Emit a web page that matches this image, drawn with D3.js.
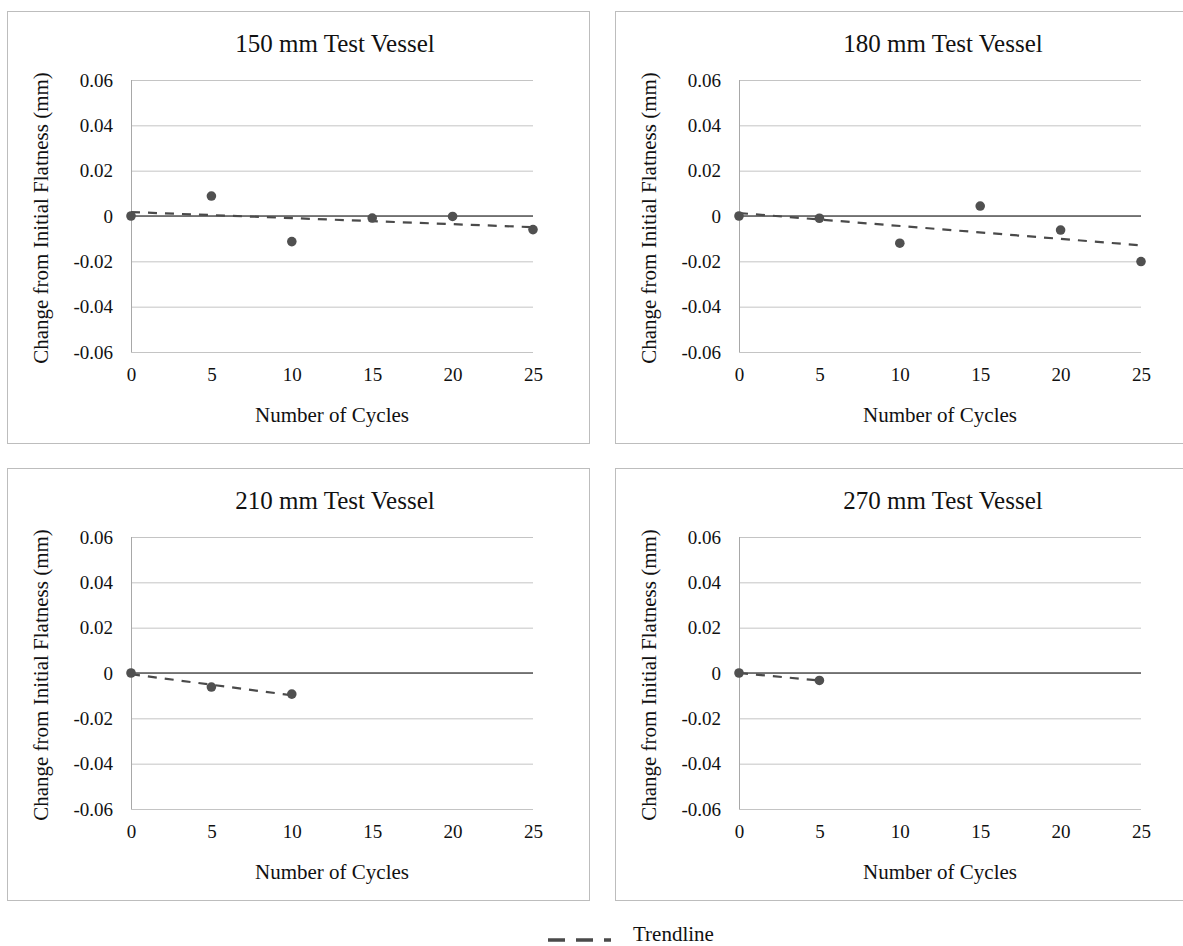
<!DOCTYPE html>
<html>
<head>
<meta charset="utf-8">
<script src="https://cdn.jsdelivr.net/npm/d3@7"></script>
<style>
  html, body { margin: 0; padding: 0; background: #fff; }
  svg { display: block; }
  svg text { font-family: 'Liberation Serif', 'Times New Roman', serif !important; fill: #111; }
</style>
</head>
<body>
<svg id="chart" width="1183" height="946"></svg>
<script>
// ---- data ----
const panelTitles = ["150 mm Test Vessel", "180 mm Test Vessel", "210 mm Test Vessel", "270 mm Test Vessel"];
const cycles150 = [0, 5, 10, 15, 20, 25];
const change150 = [0, 0.0088, -0.0113, -0.0009, -0.0002, -0.006];
const cycles180 = [0, 5, 10, 15, 20, 25];
const change180 = [0, -0.001, -0.012, 0.0044, -0.0062, -0.0201];
const cycles210 = [0, 5, 10];
const change210 = [0, -0.0062, -0.0093];
const cycles270 = [0, 5];
const change270 = [0, -0.0033];
const xTicks = [0, 5, 10, 15, 20, 25];
const yTicks = [0.06, 0.04, 0.02, 0, -0.02, -0.04, -0.06];
const yTickLabels = ["0.06", "0.04", "0.02", "0", "-0.02", "-0.04", "-0.06"];
const xAxisTitle = "Number of Cycles";
const yAxisTitle = "Change from Initial Flatness (mm)";
const legendLabel = "Trendline";

const seriesX = [cycles150, cycles180, cycles210, cycles270];
const seriesY = [change150, change180, change210, change270];

// ---- layout ----
const FONT = "'Liberation Serif', 'Times New Roman', serif";
const svg = d3.select("#chart").attr("font-family", FONT);
const panelW = 582, panelH = 432;
const colX = [7, 615], rowY = [11, 468];
const plot = { left: 124, top: 69, width: 402, height: 272 };

function linreg(xs, ys) {
  const n = xs.length;
  const mx = d3.mean(xs), my = d3.mean(ys);
  let sxy = 0, sxx = 0;
  for (let i = 0; i < n; i++) { sxy += (xs[i] - mx) * (ys[i] - my); sxx += (xs[i] - mx) ** 2; }
  const slope = sxx ? sxy / sxx : 0;
  return { slope, intercept: my - slope * mx };
}

panelTitles.forEach((title, i) => {
  const px = colX[i % 2], py = rowY[Math.floor(i / 2)];
  const g = svg.append("g").attr("transform", `translate(${px},${py})`);

  g.append("rect").attr("x", 0.5).attr("y", 0.5).attr("width", panelW).attr("height", panelH)
    .attr("fill", "#fff").attr("stroke", "#bdbdbd").attr("stroke-width", 1);

  const x = d3.scaleLinear().domain([0, 25]).range([0, plot.width]);
  const y = d3.scaleLinear().domain([-0.06, 0.06]).range([plot.height, 0]);

  const p = g.append("g").attr("transform", `translate(${plot.left},${plot.top})`);

  // gridlines
  p.append("g").call(d3.axisLeft(y).tickValues(yTicks).tickSize(-plot.width).tickFormat(""))
    .call(s => s.select(".domain").remove())
    .call(s => s.selectAll("line").attr("stroke", "#c4c4c4").attr("stroke-width", 1));

  // vertical axis line
  p.append("line").attr("x1", 0.5).attr("x2", 0.5).attr("y1", 0).attr("y2", plot.height)
    .attr("stroke", "#a8a8a8").attr("stroke-width", 1);

  // horizontal axis at zero
  p.append("line").attr("x1", 0).attr("x2", plot.width).attr("y1", y(0)).attr("y2", y(0))
    .attr("stroke", "#555").attr("stroke-width", 1.3);

  // y tick labels
  p.append("g").call(d3.axisLeft(y).tickValues(yTicks).tickSize(0).tickPadding(18)
      .tickFormat((d, k) => yTickLabels[k]))
    .attr("font-family", FONT).attr("font-size", 19)
    .call(s => s.select(".domain").remove())
    .call(s => s.selectAll("text").attr("fill", "#111"));

  // x tick labels (low position)
  p.append("g").attr("transform", `translate(0,${plot.height})`)
    .call(d3.axisBottom(x).tickValues(xTicks).tickSize(0).tickPadding(16))
    .attr("font-family", FONT).attr("font-size", 19)
    .call(s => s.select(".domain").remove())
    .call(s => s.selectAll("text").attr("fill", "#111"));

  // trendline
  const xs = seriesX[i], ys = seriesY[i];
  const r = linreg(xs, ys);
  const x0 = d3.min(xs), x1 = d3.max(xs);
  p.append("line")
    .attr("x1", x(x0)).attr("y1", y(r.intercept + r.slope * x0))
    .attr("x2", x(x1)).attr("y2", y(r.intercept + r.slope * x1))
    .attr("stroke", "#4a4a4a").attr("stroke-width", 2.2).attr("stroke-dasharray", "9,8");

  // markers
  p.selectAll("circle.pt").data(xs.map((d, k) => [d, ys[k]])).join("circle")
    .attr("class", "pt")
    .attr("cx", d => x(d[0])).attr("cy", d => y(d[1])).attr("r", 4.8)
    .attr("fill", "#505050");

  // titles
  g.append("text").attr("x", plot.left + plot.width / 2 + 3).attr("y", 32).attr("dy", "0.35em")
    .attr("text-anchor", "middle").attr("font-size", 25).text(title);

  g.append("text").attr("x", plot.left + plot.width / 2).attr("y", 404).attr("dy", "0.35em")
    .attr("text-anchor", "middle").attr("font-size", 21).text(xAxisTitle);

  g.append("text")
    .attr("transform", `translate(34,${plot.top + plot.height / 2 + 2}) rotate(-90)`)
    .attr("dy", "0.35em").attr("text-anchor", "middle").attr("font-size", 21).text(yAxisTitle);
});

// legend
const lg = svg.append("g");
lg.append("line").attr("x1", 548).attr("x2", 611).attr("y1", 940).attr("y2", 940)
  .attr("stroke", "#4a4a4a").attr("stroke-width", 3.5).attr("stroke-dasharray", "17,11");
lg.append("text").attr("x", 633).attr("y", 934).attr("dy", "0.35em")
  .attr("font-size", 21).text(legendLabel);
</script>
</body>
</html>
